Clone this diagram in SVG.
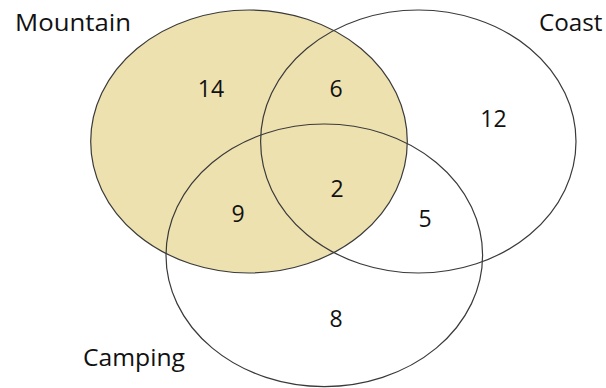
<svg xmlns="http://www.w3.org/2000/svg" width="606" height="388" viewBox="0 0 606 388">
<style>
.set{fill:none;stroke:#3a3a3a;stroke-width:1.2}
.lbl{font-family:"Open Sans","Liberation Sans",sans-serif;font-size:23px;fill:#111}
.num{font-family:"Open Sans","Liberation Sans",sans-serif;font-size:23px;fill:#111;text-anchor:middle}
</style>
<rect width="606" height="388" fill="#fff"/>
<g id="mountain">
<ellipse cx="249" cy="141.5" rx="158.3" ry="131.5" fill="#EEE1B0" stroke="#3a3a3a" stroke-width="1.2"/>
</g>
<g id="coast">
<ellipse class="set" cx="418.3" cy="141.5" rx="157.7" ry="131.5"/>
</g>
<g id="camping">
<ellipse class="set" cx="324.3" cy="255.3" rx="158.3" ry="131.3"/>
</g>
<g id="labels">
<text class="lbl" x="15" y="31" textLength="116" lengthAdjust="spacingAndGlyphs">Mountain</text>
<text class="lbl" x="539" y="31" textLength="63.5" lengthAdjust="spacingAndGlyphs">Coast</text>
<text class="lbl" x="83" y="366" textLength="102" lengthAdjust="spacingAndGlyphs">Camping</text>
</g>
<g id="counts">
<text class="num" x="211" y="97">14</text>
<text class="num" x="336" y="97">6</text>
<text class="num" x="493.5" y="127">12</text>
<text class="num" x="337" y="197">2</text>
<text class="num" x="238" y="221.7">9</text>
<text class="num" x="425" y="227">5</text>
<text class="num" x="336" y="326.7">8</text>
</g>
</svg>
